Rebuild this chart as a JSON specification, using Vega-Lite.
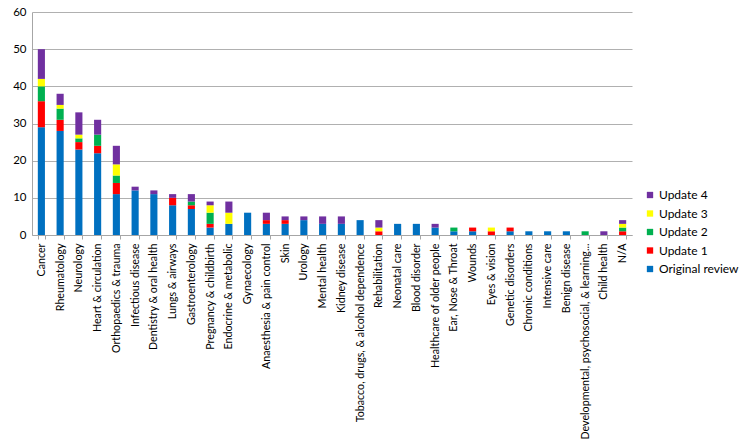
{
  "$schema": "https://vega.github.io/schema/vega-lite/v6.json",
  "width": 600,
  "height": 223,
  "padding": {"left": 12, "top": 6, "right": 0, "bottom": 0},
  "background": "white",
  "config": {
    "view": {"stroke": null},
    "font": "Lato",
    "axis": {"labelFont": "Lato", "labelColor": "#000000", "domainColor": "#a6a6a6", "gridColor": "#b0b0b0", "tickColor": "#a6a6a6"}
  },
  "data": {
    "values": [
      {"cat": "Cancer", "series": "Original review", "n": 29},
      {"cat": "Cancer", "series": "Update 1", "n": 7},
      {"cat": "Cancer", "series": "Update 2", "n": 4},
      {"cat": "Cancer", "series": "Update 3", "n": 2},
      {"cat": "Cancer", "series": "Update 4", "n": 8},
      {"cat": "Rheumatology", "series": "Original review", "n": 28},
      {"cat": "Rheumatology", "series": "Update 1", "n": 3},
      {"cat": "Rheumatology", "series": "Update 2", "n": 3},
      {"cat": "Rheumatology", "series": "Update 3", "n": 1},
      {"cat": "Rheumatology", "series": "Update 4", "n": 3},
      {"cat": "Neurology", "series": "Original review", "n": 23},
      {"cat": "Neurology", "series": "Update 1", "n": 2},
      {"cat": "Neurology", "series": "Update 2", "n": 1},
      {"cat": "Neurology", "series": "Update 3", "n": 1},
      {"cat": "Neurology", "series": "Update 4", "n": 6},
      {"cat": "Heart & circulation", "series": "Original review", "n": 22},
      {"cat": "Heart & circulation", "series": "Update 1", "n": 2},
      {"cat": "Heart & circulation", "series": "Update 2", "n": 3},
      {"cat": "Heart & circulation", "series": "Update 4", "n": 4},
      {"cat": "Orthopaedics & trauma", "series": "Original review", "n": 11},
      {"cat": "Orthopaedics & trauma", "series": "Update 1", "n": 3},
      {"cat": "Orthopaedics & trauma", "series": "Update 2", "n": 2},
      {"cat": "Orthopaedics & trauma", "series": "Update 3", "n": 3},
      {"cat": "Orthopaedics & trauma", "series": "Update 4", "n": 5},
      {"cat": "Infectious disease", "series": "Original review", "n": 12},
      {"cat": "Infectious disease", "series": "Update 4", "n": 1},
      {"cat": "Dentistry & oral health", "series": "Original review", "n": 11},
      {"cat": "Dentistry & oral health", "series": "Update 4", "n": 1},
      {"cat": "Lungs & airways", "series": "Original review", "n": 8},
      {"cat": "Lungs & airways", "series": "Update 1", "n": 2},
      {"cat": "Lungs & airways", "series": "Update 4", "n": 1},
      {"cat": "Gastroenterology", "series": "Original review", "n": 7},
      {"cat": "Gastroenterology", "series": "Update 1", "n": 1},
      {"cat": "Gastroenterology", "series": "Update 2", "n": 1},
      {"cat": "Gastroenterology", "series": "Update 4", "n": 2},
      {"cat": "Pregnancy & childbirth", "series": "Original review", "n": 2},
      {"cat": "Pregnancy & childbirth", "series": "Update 1", "n": 1},
      {"cat": "Pregnancy & childbirth", "series": "Update 2", "n": 3},
      {"cat": "Pregnancy & childbirth", "series": "Update 3", "n": 2},
      {"cat": "Pregnancy & childbirth", "series": "Update 4", "n": 1},
      {"cat": "Endocrine & metabolic", "series": "Original review", "n": 3},
      {"cat": "Endocrine & metabolic", "series": "Update 3", "n": 3},
      {"cat": "Endocrine & metabolic", "series": "Update 4", "n": 3},
      {"cat": "Gynaecology", "series": "Original review", "n": 6},
      {"cat": "Anaesthesia & pain control", "series": "Original review", "n": 3},
      {"cat": "Anaesthesia & pain control", "series": "Update 1", "n": 1},
      {"cat": "Anaesthesia & pain control", "series": "Update 4", "n": 2},
      {"cat": "Skin", "series": "Original review", "n": 3},
      {"cat": "Skin", "series": "Update 1", "n": 1},
      {"cat": "Skin", "series": "Update 4", "n": 1},
      {"cat": "Urology", "series": "Original review", "n": 4},
      {"cat": "Urology", "series": "Update 4", "n": 1},
      {"cat": "Mental health", "series": "Original review", "n": 3},
      {"cat": "Mental health", "series": "Update 4", "n": 2},
      {"cat": "Kidney disease", "series": "Original review", "n": 3},
      {"cat": "Kidney disease", "series": "Update 4", "n": 2},
      {"cat": "Tobacco, drugs, & alcohol dependence", "series": "Original review", "n": 4},
      {"cat": "Rehabilitation", "series": "Update 1", "n": 1},
      {"cat": "Rehabilitation", "series": "Update 3", "n": 1},
      {"cat": "Rehabilitation", "series": "Update 4", "n": 2},
      {"cat": "Neonatal care", "series": "Original review", "n": 3},
      {"cat": "Blood disorder", "series": "Original review", "n": 3},
      {"cat": "Healthcare of older people", "series": "Original review", "n": 2},
      {"cat": "Healthcare of older people", "series": "Update 4", "n": 1},
      {"cat": "Ear, Nose & Throat", "series": "Original review", "n": 1},
      {"cat": "Ear, Nose & Throat", "series": "Update 2", "n": 1},
      {"cat": "Wounds", "series": "Original review", "n": 1},
      {"cat": "Wounds", "series": "Update 1", "n": 1},
      {"cat": "Eyes & vision", "series": "Update 1", "n": 1},
      {"cat": "Eyes & vision", "series": "Update 3", "n": 1},
      {"cat": "Genetic disorders", "series": "Original review", "n": 1},
      {"cat": "Genetic disorders", "series": "Update 1", "n": 1},
      {"cat": "Chronic conditions", "series": "Original review", "n": 1},
      {"cat": "Intensive care", "series": "Original review", "n": 1},
      {"cat": "Benign disease", "series": "Original review", "n": 1},
      {"cat": "Developmental, psychosocial, & learning...", "series": "Update 2", "n": 1},
      {"cat": "Child health", "series": "Update 4", "n": 1},
      {"cat": "N/A", "series": "Update 1", "n": 1},
      {"cat": "N/A", "series": "Update 2", "n": 1},
      {"cat": "N/A", "series": "Update 3", "n": 1},
      {"cat": "N/A", "series": "Update 4", "n": 1}
    ]
  },
  "mark": {"type": "bar"},
  "encoding": {
    "x": {
      "field": "cat",
      "type": "nominal",
      "sort": null,
      "scale": {"paddingInner": 0.62, "paddingOuter": 0.31},
      "axis": {
        "title": null,
        "labelAngle": -90,
        "labelFontSize": 10.7,
        "labelPadding": 4,
        "tickBand": "extent",
        "tickSize": 4,
        "labelLimit": 300
      }
    },
    "y": {
      "field": "n",
      "type": "quantitative",
      "aggregate": "sum",
      "stack": "zero",
      "scale": {"domain": [0, 60]},
      "axis": {
        "title": null,
        "values": [0, 10, 20, 30, 40, 50, 60],
        "labelFontSize": 11.5,
        "ticks": false,
        "labelPadding": 6
      }
    },
    "color": {
      "field": "series",
      "type": "nominal",
      "scale": {
        "domain": ["Update 4", "Update 3", "Update 2", "Update 1", "Original review"],
        "range": ["#7030A0", "#FFFF00", "#00B050", "#FF0000", "#0070C0"]
      },
      "legend": {
        "title": null,
        "orient": "none",
        "legendX": 612,
        "legendY": 177,
        "symbolType": "square",
        "symbolSize": 40,
        "symbolStrokeWidth": 0,
        "labelFontSize": 12,
        "labelFont": "Lato",
        "labelColor": "#000000",
        "rowPadding": 6.5,
        "labelOffset": 3
      }
    },
    "order": {"field": "series", "sort": "ascending"}
  }
}
